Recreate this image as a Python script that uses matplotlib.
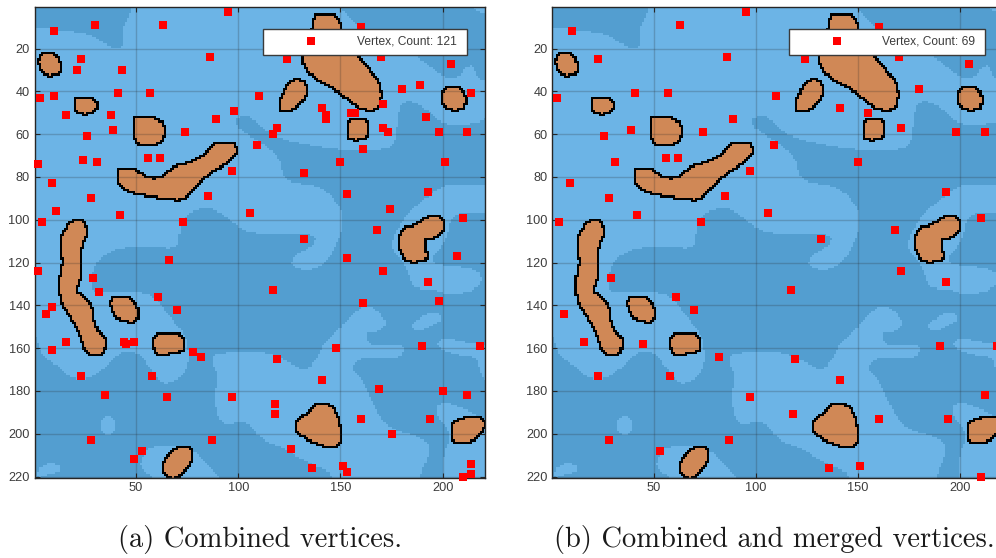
import numpy as np
import matplotlib
matplotlib.use("Agg")
import matplotlib.pyplot as plt
from matplotlib.colors import ListedColormap
from matplotlib.patches import Rectangle
from matplotlib.path import Path

# vertices as (x, y)
left_vertices = [
    (95, 3), (30, 9), (63, 9), (10, 12), (86, 24), (23, 25), (21, 30), (43, 30), (41, 41), (57, 41),
    (10, 42), (3, 43), (110, 42), (98, 49), (16, 51), (38, 51), (89, 53), (39, 58), (74, 59), (26, 61),
    (109, 65), (56, 71), (62, 71), (24, 72), (31, 73), (2, 74), (97, 77), (9, 83), (85, 89), (28, 90),
    (11, 96), (42, 98), (106, 97), (4, 101), (73, 101), (66, 119),
    (160, 10), (124, 25), (170, 24), (204, 27), (189, 37), (180, 39), (214, 41), (171, 46), (141, 48),
    (143, 51), (143, 53), (155, 50), (157, 50), (192, 52), (119, 57), (117, 60), (171, 57), (173, 59),
    (198, 59), (212, 59), (161, 67), (150, 73), (201, 73), (132, 78), (153, 88), (193, 87), (174, 95),
    (210, 99), (132, 109), (168, 105), (207, 117), (153, 118),
    (171, 124), (193, 129), (117, 133), (161, 139), (198, 138), (148, 160), (190, 159), (218, 159),
    (119, 165), (141, 175), (169, 179), (200, 180), (212, 182), (118, 186), (118, 191), (160, 193),
    (194, 193), (175, 200), (126, 207), (136, 216), (151, 215), (153, 218), (214, 214), (214, 219), (210, 220),
    (2, 124), (29, 127), (32, 134), (61, 136), (70, 142), (9, 141), (6, 144), (16, 157), (9, 161),
    (44, 157), (45, 158), (49, 157), (78, 162), (82, 164), (23, 173), (58, 173), (35, 182), (65, 183),
    (97, 183), (28, 203), (87, 203), (53, 208), (49, 212),
]
right_vertices = [
    (95, 3), (63, 9), (10, 12), (160, 10), (86, 24), (23, 25), (124, 25), (170, 24), (204, 27), (180, 39),
    (41, 41), (57, 41), (110, 42), (3, 43), (141, 48), (155, 50), (89, 53), (39, 58), (171, 57), (74, 59),
    (198, 59), (212, 59), (26, 61), (109, 65), (56, 71), (62, 71), (31, 73), (150, 73), (97, 77), (9, 83),
    (193, 87), (85, 89), (28, 90), (42, 98), (106, 97), (4, 101), (73, 101), (210, 99), (168, 105), (132, 109),
    (29, 127), (171, 124), (193, 129), (117, 133), (61, 136), (70, 142), (6, 144), (16, 157), (45, 158),
    (190, 159), (218, 159), (82, 164), (119, 165), (23, 173), (58, 173), (141, 175), (97, 183), (212, 182),
    (118, 191), (160, 193), (194, 193), (28, 203), (87, 203), (53, 208), (136, 216), (151, 215), (210, 220),
]
left_label = "Vertex, Count: 121"
right_label = "Vertex, Count: 69"
left_caption = "(a) Combined vertices."
right_caption = "(b) Combined and merged vertices."
xtick_values = [50, 100, 150, 200]
ytick_values = [20, 40, 60, 80, 100, 120, 140, 160, 180, 200, 220]

# darker background areas
dark_areas = [
    [(0.5, 10.5), (16, 11.5), (27.5, 13), (34, 17.5), (40.5, 20.5), (44.5, 17), (43, 10.5), (48, 2), (48, 0.5), (0.5, 0.5)],
    [(149.5, 0.5), (154, 6), (158, 10), (172, 15), (186, 23), (193.5, 28.5), (199, 32.5), (204, 34), (208, 32.5),
     (212, 27.5), (214.5, 28.5), (216, 34), (220.5, 34.5), (220.5, 3.5), (217, 3), (214, 0.5)],
    [(98.4, 53.4), (100, 51.9), (105.7, 51.5), (111.4, 57.3), (116.3, 60.4), (126, 63.5), (144, 66.7), (153.7, 67.4),
     (171.6, 67.4), (176.5, 63.5), (177.4, 50.3), (179.8, 44.9), (186.3, 44.9), (193.5, 50), (199, 55), (209.6, 55.7),
     (217.8, 54), (220.5, 52), (220.5, 220.5), (0.5, 220.5), (0.5, 153), (4, 164), (10.6, 167), (17, 173.4), (25, 175),
     (33.4, 170), (43, 161), (50.5, 161), (59.4, 173.4), (64.3, 177), (72.5, 173.4), (75.7, 165.6), (74, 153), (66, 145),
     (59.4, 136), (49.7, 133), (33.4, 133.6), (27.7, 133), (29.3, 122), (33.4, 116.5), (43, 112.6), (58, 112.6), (70.5, 113.4),
     (70.8, 106.4), (72.3, 101.7), (75.6, 96.2), (84.5, 93.9), (92, 97), (98.4, 102.5), (106.5, 106.4), (127.7, 106.4),
     (137.5, 107.2), (136.6, 111.8), (128.5, 115.7), (125.2, 119.6), (127.7, 122.7), (135.8, 123.5), (144, 118.8),
     (148.8, 109.5), (152, 98.6), (145.6, 88.5), (137.5, 83.8), (123.6, 82.2), (121.2, 77.6), (119.5, 70.5), (111.4, 64.3),
     (103.3, 59.6), (98.4, 55.8)],
]
# lighter pockets inside the dark area
light_areas = [
    [(173.8, 111), (178.7, 101.7), (183.6, 95.5), (190, 90.8), (196.6, 85.3), (203.9, 83), (211.2, 83), (220.5, 83),
     (220.5, 96.2), (212.9, 96.2), (206.4, 97), (203.1, 100.1), (202.3, 104.8), (199.8, 111), (195, 116.5), (193.3, 119.6),
     (199.8, 121.2), (209.6, 122), (217.8, 124.3), (218.6, 129.7), (211.2, 134.4), (199.8, 134.4), (193.3, 132), (185.2, 132),
     (182.7, 125), (180.3, 119.6), (176.2, 115.7)],
    [(184.5, 149), (187, 146.5), (193.5, 143), (198, 143.5), (199, 147), (194, 149), (188.5, 152), (185, 151.5)],
    [(196.5, 156), (204.5, 155.5), (214.5, 158), (220.5, 158), (220.5, 175), (218, 172), (216, 164), (206.5, 163), (197.5, 160)],
    [(162.7, 139), (168.4, 143), (172.5, 148.4), (168.4, 152.3), (161.9, 152.3), (162.7, 157.7), (168.4, 159.3), (178.2, 157.7),
     (181.4, 160.9), (176.5, 165.5), (163.5, 164), (157, 165.5), (154.6, 169.4), (160.3, 174.9), (162.7, 179.6), (166.8, 188.9),
     (173.4, 197.5), (186.4, 200.6), (192.9, 204.5), (192.1, 210.7), (188, 220.5), (145.3, 220.5), (144, 217), (134.2, 213.8),
     (121.2, 206), (111.4, 202.9), (104.9, 195.1), (100, 193.9), (94.3, 196.7), (90.2, 193.6), (88.1, 182.7), (90.2, 173.3),
     (86.6, 164.8), (88.6, 162.4), (99.2, 161.6), (108.1, 160.9), (117.9, 163.2), (126.1, 167.1), (132.6, 170.5), (137.5, 165.5),
     (141.5, 156.9), (148.9, 151.5), (155.4, 143.7)],
    [(195.8, 187.4), (199.8, 185), (208, 187.4), (216.1, 191.3), (220.5, 195.2), (220.5, 220.5), (199.8, 220.5), (199.8, 209.2),
     (202.3, 204.5), (202.3, 196.7), (197.4, 193.6)],
    [(31.8, 195.2), (35, 190.5), (39.1, 192.8), (40.2, 196.7), (37.5, 200.6), (33.4, 199.8)],
    [(51.5, 214), (54.5, 207), (59.5, 205.5), (75.5, 206), (82, 211.5), (90.5, 219.5), (91, 220.5), (58.5, 220.5), (53, 217)],
    [(1.6, 217.7), (4.1, 214.6), (9, 213.1), (13, 215.4), (12.2, 217.7), (5.7, 219.3), (2.4, 220.5)],
]
# brown blobs
blobs = [
    [(3, 24), (4.5, 22.5), (9, 22.5), (11, 24.5), (12.5, 27), (12.5, 30), (9.5, 32), (7, 32), (4, 30), (3, 27.5)],
    [(20, 45), (21.5, 43), (27, 43), (30.5, 45.5), (30.5, 47.5), (27.5, 50), (22.5, 50), (20.5, 48)],
    [(49, 54), (51, 52), (56, 52), (60, 53.5), (63.5, 56), (63.5, 61), (60, 64.5), (52, 65), (49.5, 61)],
    [(41.5, 77), (43, 76), (48, 76), (51, 78), (55, 81), (62, 81), (66.5, 77.5), (71.5, 74.5), (77, 73.5), (83, 70.5), (88, 65),
     (90, 64), (96.5, 64), (98.5, 66.5), (97.5, 69.5), (92.5, 73.5), (84.5, 78.5), (79.5, 83), (75, 87.5), (72.5, 90), (68, 90),
     (65, 89), (57.5, 89), (53, 87.5), (46.5, 86.5), (42, 83), (41.5, 80)],
    [(17.5, 102), (21.5, 100), (25, 102), (25.5, 107), (22.5, 112.5), (22.5, 126.5), (21, 130), (20.5, 134), (22.5, 135), (28.5, 141),
     (28.5, 146), (31, 153), (34.5, 156), (34.5, 159), (32.5, 162.5), (26.5, 162), (24.5, 158.5), (22.5, 152), (20, 147.5), (17, 143),
     (14.5, 140), (12.5, 133), (12.5, 129), (13.5, 123.5), (14.5, 120), (13.5, 114), (13.5, 108)],
    [(38, 137.5), (39.5, 136), (45.5, 136), (50.5, 140.5), (50.5, 147), (44, 147), (40, 144.5), (38, 140.5)],
    [(58.5, 156), (61.5, 153), (69, 153), (72.5, 155.5), (72.5, 161), (66.5, 161), (65, 162.5), (61, 162.5), (59, 160)],
    [(63.5, 213.5), (67.5, 208.5), (72, 206), (76.5, 207), (76.5, 213), (72.5, 217.5), (69.5, 220), (66, 220), (63.5, 216.5)],
    [(128, 195), (134, 190.5), (138, 186), (144, 186), (149, 193.5), (149.5, 203.5), (147, 205.5), (140, 205), (132.5, 201.5), (128.5, 198)],
    [(204, 197), (206, 194.5), (211.5, 192.5), (218.5, 192.5), (219.5, 197), (213, 203.5), (205, 203.5), (204, 200)],
    [(136.5, 6.5), (139, 4), (146.5, 4), (149, 7.5), (149, 11), (151, 16), (156, 23), (167.5, 34.5), (169.5, 41), (168, 48), (160, 48),
     (154.5, 44), (146.5, 38), (139, 34.5), (132.5, 29), (131.5, 23), (133, 17), (136.5, 11)],
    [(120, 47), (122, 41), (125, 35.5), (130, 34.5), (133, 38.5), (132.5, 41.5), (126, 48.5), (121, 48.5)],
    [(153, 57), (155, 53), (161, 53), (162.5, 55.5), (162.5, 60), (160, 62), (154, 62), (153, 60)],
    [(199, 42.5), (201, 38.5), (206, 38), (208, 39), (210.5, 42.5), (210, 46.5), (208, 48), (203, 48), (200, 46)],
    [(178, 111), (180.5, 103.5), (187, 103), (190, 100), (195, 98), (199, 99.5), (199.5, 105), (195, 108), (190.5, 108.5), (190, 112.5),
     (191.5, 117), (189.5, 119), (182, 119), (179, 114)],
]

LIGHT, DARK, BROWN, EDGE = 0, 1, 2, 3
map_colors = ListedColormap(["#6CB4E6", "#539ED0", "#D08856", "#000000"])
TEXT_COLOR = "#3C3C3C"
W, H = 996, 558
AX_W, AX_H = 450, 470.8
plt.rcParams["font.family"] = ["Liberation Sans", "DejaVu Sans"]


def round_corners(poly, passes=2):
    # corner cutting, points on the image border stay where they are
    pts = list(poly)
    for _ in range(passes):
        out = []
        for i, p in enumerate(pts):
            if p[0] in (0.5, 220.5) or p[1] in (0.5, 220.5):
                out.append(p)
                continue
            a = pts[i - 1]
            b = pts[(i + 1) % len(pts)]
            out.append((p[0] + 0.25 * (a[0] - p[0]), p[1] + 0.25 * (a[1] - p[1])))
            out.append((p[0] + 0.25 * (b[0] - p[0]), p[1] + 0.25 * (b[1] - p[1])))
        pts = out
    return pts


def build_map():
    # rasterize the traced outlines onto the 220x220 cell grid
    xs, ys = np.meshgrid(np.arange(1, 221), np.arange(1, 221))
    cells = np.column_stack([xs.ravel(), ys.ravel()])

    def fill(poly):
        return Path(round_corners(poly)).contains_points(cells).reshape(xs.shape)

    grid = np.full(xs.shape, LIGHT)
    for poly in dark_areas:
        grid[fill(poly)] = DARK
    for poly in light_areas:
        grid[fill(poly)] = LIGHT
    brown = np.zeros(xs.shape, dtype=bool)
    for poly in blobs:
        brown |= fill(poly)
    grid[brown] = BROWN
    # the outline is one ring of cells around every blob, diagonals included
    tall = brown.copy()
    tall[1:, :] |= brown[:-1, :]
    tall[:-1, :] |= brown[1:, :]
    grown = tall.copy()
    grown[:, 1:] |= tall[:, :-1]
    grown[:, :-1] |= tall[:, 1:]
    grid[grown & ~brown] = EDGE
    return grid


def draw_panel(fig, left_px, vertices, label, box_px, grid):
    ax = fig.add_axes([left_px / W, 1 - (6.8 + AX_H) / H, AX_W / W, AX_H / H])
    ax.imshow(grid, cmap=map_colors, vmin=0, vmax=3, extent=(0.5, 220.5, 220.5, 0.5),
              aspect="auto", interpolation="nearest", zorder=0)
    ax.set_xlim(0.5, 220.5)
    ax.set_ylim(220.5, 0.5)
    ax.set_xticks(xtick_values)
    ax.set_yticks(ytick_values)
    ax.grid(True, color="#262626", alpha=0.22, linewidth=1.0)
    ax.tick_params(direction="in", top=True, right=True, length=3.4, width=0.8, color="#262626",
                   labelsize=9.2, labelcolor=TEXT_COLOR, pad=3.5)
    for spine in ax.spines.values():
        spine.set_color("#262626")
        spine.set_linewidth(1.0)
    xv = [p[0] for p in vertices]
    yv = [p[1] for p in vertices]
    ax.plot(xv, yv, "s", color="#FF0000", markersize=6.1, markeredgewidth=0, clip_on=False, zorder=3)

    # legend box, placed in pixels like the reference
    x0, x1, top, bottom = box_px
    to_ax = lambda px, py: ((px - left_px) / AX_W, 1 - (py - 6.8) / AX_H)
    bx0, by1 = to_ax(x0, bottom)
    bx1, by0 = to_ax(x1, top)
    ax.add_patch(Rectangle((bx0, by1), bx1 - bx0, by0 - by1, transform=ax.transAxes, facecolor="white",
                           edgecolor="#3A3A3A", linewidth=1.0, zorder=5))
    mx, my = to_ax(x0 + 48, (top + bottom) / 2 - 0.3)
    ax.plot([mx], [my], "s", color="#FF0000", markersize=6.1, markeredgewidth=0, transform=ax.transAxes, zorder=6)
    tx, ty = to_ax(x1 - 10.5, (top + bottom) / 2)
    ax.text(tx, ty, label, transform=ax.transAxes, ha="right", va="center", fontsize=8.65,
            color=TEXT_COLOR, zorder=6)
    return ax


grid = build_map()
fig = plt.figure(figsize=(W / 100, H / 100), dpi=100)
draw_panel(fig, 34.7, left_vertices, left_label, (263, 467, 28.7, 54.8), grid)
draw_panel(fig, 552.3, right_vertices, right_label, (788.5, 985, 28.7, 54.8), grid)
fig.text(260 / W, 1 - 547 / H, left_caption, family="cmr10", fontsize=20.5, color="#1A1A1A", ha="center", va="baseline")
fig.text(774 / W, 1 - 547 / H, right_caption, family="cmr10", fontsize=20.5, color="#1A1A1A", ha="center", va="baseline")
fig.savefig("out.png", dpi=100)
